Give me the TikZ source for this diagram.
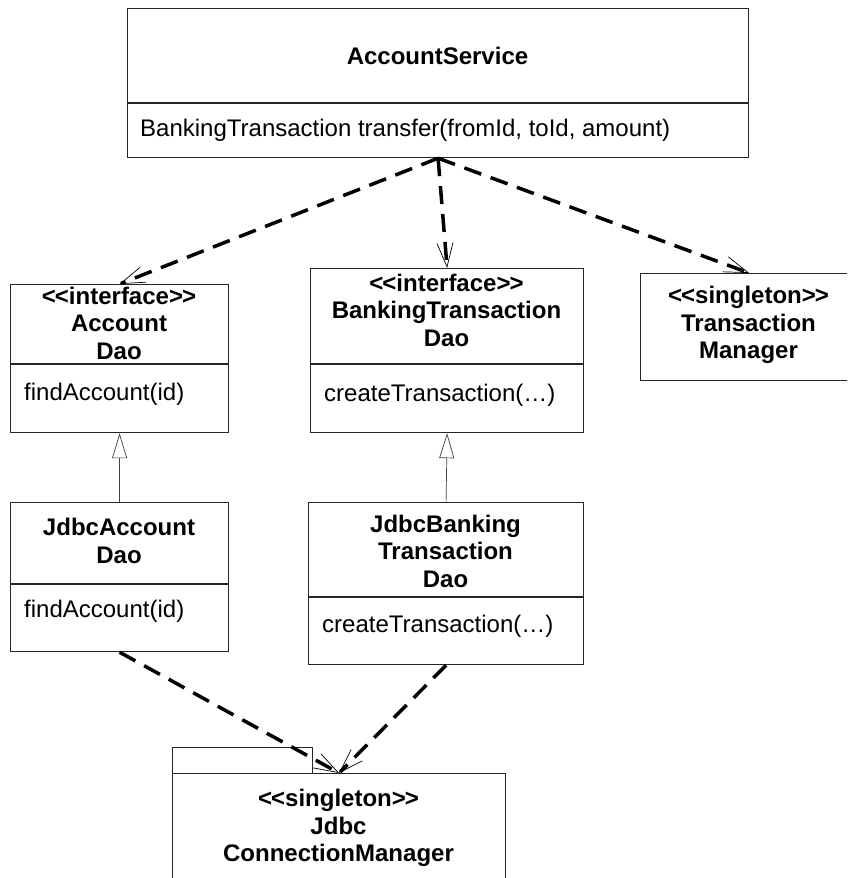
\documentclass[tikz,border=0pt]{standalone}
\usepackage{fontspec}
\setmainfont{Liberation Sans}
\usetikzlibrary{arrows.meta}
% stereotype brackets, kerned so that << and >> stay two separate glyphs
\newcommand\stL{<\kern-1pt<}
\newcommand\stR{>\kern-1pt>}
\begin{document}
\begin{tikzpicture}[x=1pt,y=-1pt,
  box/.style={draw=black!85, line width=1.2pt, fill=white, inner sep=0pt, anchor=north west},
  sep/.style={draw=black!85, line width=1.2pt},
  ttl/.style={font=\fontsize{24}{27.5}\selectfont\bfseries, align=center, inner sep=0pt},
  mth/.style={font=\fontsize{24}{27.5}\selectfont, anchor=west, inner sep=0pt},
  dep/.style={line width=3.5pt, dash pattern=on 18pt off 10pt,
    -{Straight Barb[length=24pt,width=16pt,line width=0.7pt]}},
  gen/.style={line width=0.7pt, draw=black!75,
    -{Triangle[open,length=25pt,width=15pt,line width=0.7pt,fill=white]}}
]
\clip (0,0) rectangle (847,878);

% AccountService
\node[box, minimum width=621pt, minimum height=149pt] (as) at (127,8) {};
\draw[sep] (127,103) -- (748,103);
\node[ttl] (asT) at (437.5,56) {AccountService};
\node[mth] (asM) at (140,130) {BankingTransaction transfer(fromId, toId, amount)};

% AccountDao
\node[box, minimum width=218pt, minimum height=148pt] (ad) at (10,284) {};
\draw[sep] (10,364) -- (228,364);
\node[ttl] (adT) at (119,323) {\stL interface\stR\\Account\\Dao};
\node[mth] (adM) at (24,394) {findAccount(id)};

% BankingTransactionDao
\node[box, minimum width=273pt, minimum height=164pt] (bd) at (310,268) {};
\draw[sep] (310,364) -- (583,364);
\node[ttl] (bdT) at (446.5,310) {\stL interface\stR\\BankingTransaction\\Dao};
\node[mth] (bdM) at (324,395) {createTransaction(\dots)};

% TransactionManager
\node[box, minimum width=217pt, minimum height=107pt] (tm) at (640,273) {};
\node[ttl] (tmT) at (748.5,325) {\stL singleton\stR\\Transaction\\Manager};

% JdbcAccountDao
\node[box, minimum width=218pt, minimum height=149pt] (jad) at (10,502) {};
\draw[sep] (10,584) -- (228,584);
\node[ttl] (jadT) at (119,541) {JdbcAccount\\Dao};
\node[mth] (jadM) at (24,611) {findAccount(id)};

% JdbcBankingTransactionDao
\node[box, minimum width=275pt, minimum height=162pt] (jbd) at (308,502) {};
\draw[sep] (308,597) -- (583,597);
\node[ttl] (jbdT) at (445.5,551) {JdbcBanking\\Transaction\\Dao};
\node[mth] (jbdM) at (322,626) {createTransaction(\dots)};

% JdbcConnectionManager (tabbed box)
\node[box, minimum width=140pt, minimum height=26pt] (cmtab) at (172,747) {};
\node[box, minimum width=333pt, minimum height=120pt] (cm) at (172,773) {};
\node[ttl] (cmT) at (338.5,828) {\stL singleton\stR\\Jdbc\\ConnectionManager};

% dependencies
\draw[dep] (as.south) -- (ad.north);
\draw[dep] (as.south) -- (bd.north);
\draw[dep] (as.south) -- (tm.north);
\draw[dep] (jad.south) -- (cm.north);
\draw[dep] (jbd.south) -- (cm.north);

% realisations
\draw[gen] (jad.north) -- (ad.south);
\draw[gen] (jbd.north) -- (bd.south);
\end{tikzpicture}
\end{document}
